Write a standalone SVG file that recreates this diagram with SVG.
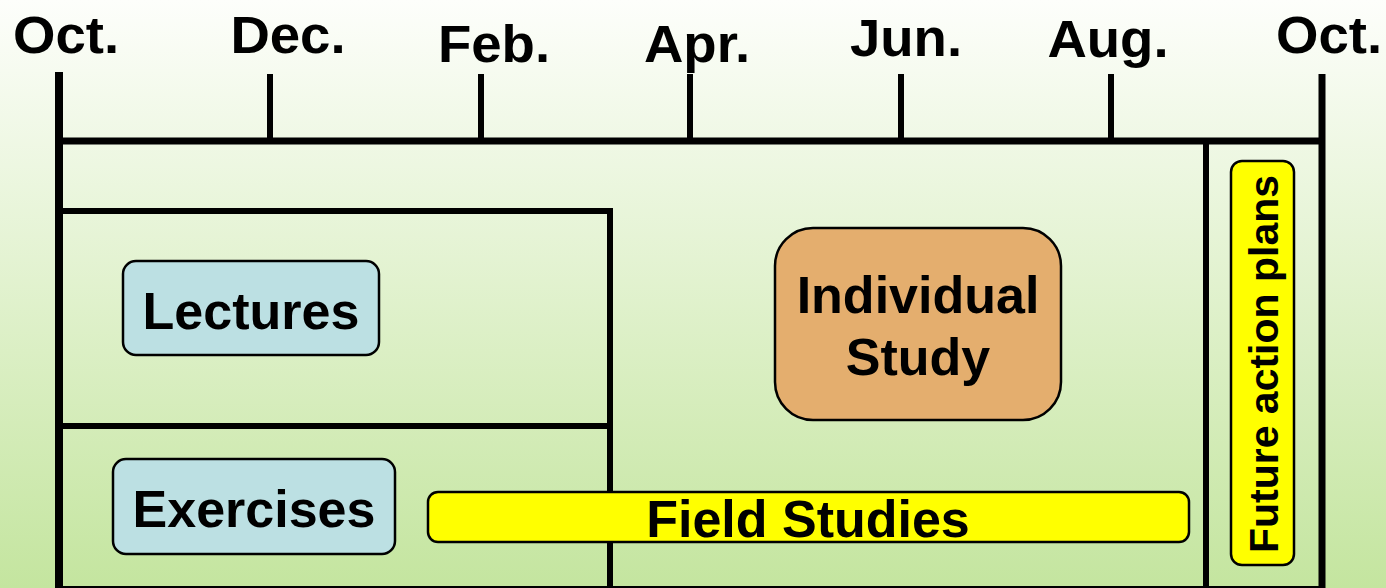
<svg xmlns="http://www.w3.org/2000/svg" width="1386" height="588" viewBox="0 0 1386 588">
<defs>
<linearGradient id="bg" x1="0" y1="0" x2="0" y2="1">
<stop offset="0" stop-color="#fdfefb"/>
<stop offset="1" stop-color="#c4e59f"/>
</linearGradient>
<style>
.lbl{font-family:"Liberation Sans",Arial,sans-serif;font-weight:bold;fill:#000;text-anchor:middle}
.mon{font-size:51px}
.box{font-size:52px}
.ln{stroke:#000;fill:none}
.blue{fill:#bce0e3;stroke:#000;stroke-width:2.5}
.yel{fill:#ffff00;stroke:#000;stroke-width:2.5}
</style>
</defs>
<rect x="0" y="0" width="1386" height="588" fill="url(#bg)"/>
<g id="axis">
<line class="ln" x1="59" y1="72" x2="59" y2="588" stroke-width="8"/>
<line class="ln" x1="1322" y1="74" x2="1322" y2="588" stroke-width="7"/>
<line class="ln" x1="59" y1="141" x2="1325" y2="141" stroke-width="7"/>
<line class="ln" x1="270" y1="74" x2="270" y2="141" stroke-width="6"/>
<line class="ln" x1="481" y1="74" x2="481" y2="141" stroke-width="6"/>
<line class="ln" x1="690" y1="74" x2="690" y2="141" stroke-width="6"/>
<line class="ln" x1="901" y1="74" x2="901" y2="141" stroke-width="6"/>
<line class="ln" x1="1111" y1="74" x2="1111" y2="141" stroke-width="6"/>
<line class="ln" x1="1206" y1="141" x2="1206" y2="588" stroke-width="6"/>
<line class="ln" x1="59" y1="211" x2="613" y2="211" stroke-width="6"/>
<line class="ln" x1="610" y1="208" x2="610" y2="588" stroke-width="6"/>
<line class="ln" x1="59" y1="426" x2="610" y2="426" stroke-width="6"/>
<line class="ln" x1="59" y1="587" x2="1322" y2="587" stroke-width="2"/>
</g>
<g id="months">
<text class="lbl mon" transform="translate(66,53) scale(1.07,1)">Oct.</text>
<text class="lbl mon" transform="translate(288,53) scale(1.07,1)">Dec.</text>
<text class="lbl mon" transform="translate(494,62) scale(1.07,1)">Feb.</text>
<text class="lbl mon" transform="translate(697,62) scale(1.07,1)">Apr.</text>
<text class="lbl mon" transform="translate(906,56) scale(1.07,1)">Jun.</text>
<text class="lbl mon" transform="translate(1108,57) scale(1.07,1)">Aug.</text>
<text class="lbl mon" transform="translate(1329,53) scale(1.07,1)">Oct.</text>
</g>
<g id="lectures">
<rect class="blue" x="123" y="261" width="256" height="94" rx="13"/>
<text class="lbl box" x="251" y="329">Lectures</text>
</g>
<g id="exercises">
<rect class="blue" x="113" y="459" width="282" height="95" rx="13"/>
<text class="lbl box" x="254" y="527">Exercises</text>
</g>
<g id="individual-study">
<rect x="775" y="228" width="286" height="192" rx="38" fill="#e4ae6e" stroke="#000" stroke-width="2.5"/>
<text class="lbl box" x="918" y="313">Individual</text>
<text class="lbl box" x="918" y="375">Study</text>
</g>
<g id="field-studies">
<rect class="yel" x="428" y="492" width="761" height="50" rx="10"/>
<text class="lbl box" x="808" y="537">Field Studies</text>
</g>
<g id="future-action-plans">
<rect class="yel" x="1231" y="161" width="63" height="404" rx="11"/>
<text class="lbl" font-size="41" transform="translate(1278,364) rotate(-90)" x="0" y="0">Future action plans</text>
</g>
</svg>
